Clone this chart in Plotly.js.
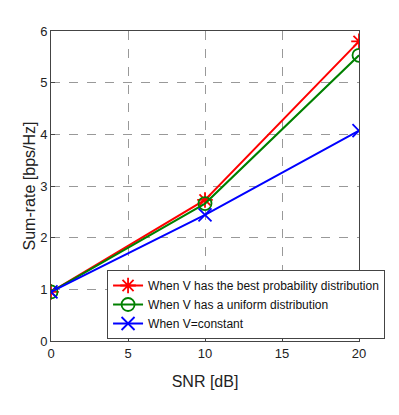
<!DOCTYPE html>
<html>
<head>
<meta charset="utf-8">
<script src="https://cdn.plot.ly/plotly-3.0.1.min.js"></script>
<style>
  body { margin: 0; background: #fff; }
  #plotDiv { width: 399px; height: 415px; }
</style>
</head>
<body>
<div id="plotDiv"></div>
<script>
// SNR in dB
var snr = [0, 10, 20];
// sum-rate for each case
var bestDist = [0.95, 2.73, 5.80];
var uniformDist = [0.95, 2.66, 5.53];
var constV = [0.95, 2.44, 4.07];

var names = [
  'When V has the best probability distribution',
  'When V has a uniform distribution',
  'When V=constant'
];

function makeTrace(y, name, color, symbol){
  return {
    x: snr,
    y: y,
    mode: 'lines+markers',
    type: 'scatter',
    name: name,
    line: { color: color, width: 2 },
    marker: { symbol: symbol, size: 13, color: color, line: { color: color, width: 1.8 } }
  };
}

var data = [
  makeTrace(bestDist, names[0], '#ff0000', 'asterisk-open'),
  makeTrace(uniformDist, names[1], '#008000', 'circle-open'),
  makeTrace(constV, names[2], '#0000ff', 'x-thin-open')
];

var ax = {
  showline: true, mirror: true, linecolor: '#444', linewidth: 1,
  ticks: 'inside', ticklen: 4, tickcolor: '#444',
  showgrid: true, gridcolor: '#999', griddash: 'dash', gridwidth: 1,
  zeroline: false, fixedrange: true
};

var layout = {
  width: 399, height: 415,
  margin: { l: 51, r: 40, t: 31, b: 74, autoexpand: false },
  paper_bgcolor: '#fff', plot_bgcolor: '#fff',
  font: { family: 'Liberation Sans, Arial, sans-serif', size: 13, color: '#222' },
  showlegend: true,
  legend: {
    x: 0.182, y: 0.229, xanchor: 'left', yanchor: 'top',
    bgcolor: '#fff', bordercolor: '#444', borderwidth: 1,
    font: { size: 12, color: '#111' }, tracegroupgap: 0,
    itemwidth: 30
  },
  xaxis: Object.assign({}, ax, {
    range: [0, 20], tickvals: [0, 5, 10, 15, 20],
    title: { text: 'SNR [dB]', standoff: 16 }
  }),
  yaxis: Object.assign({}, ax, {
    range: [0, 6], tickvals: [0, 1, 2, 3, 4, 5, 6],
    title: { text: 'Sum-rate [bps/Hz]', standoff: 0 }
  })
};

Plotly.newPlot('plotDiv', data, layout, { displayModeBar: false, staticPlot: true });
</script>
</body>
</html>
